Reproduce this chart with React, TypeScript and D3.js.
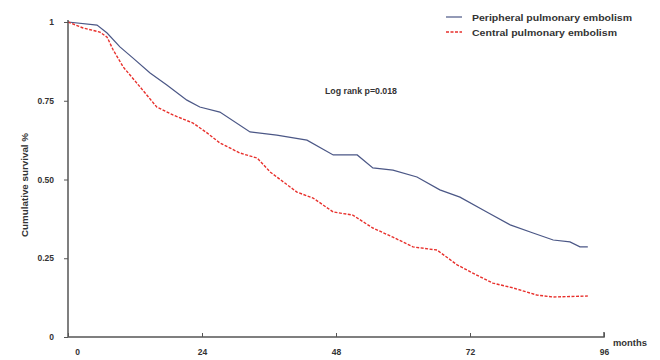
import React, { useEffect, useRef } from 'react';
import * as d3 from 'd3';

// Kaplan-Meier curves (months, cumulative survival)
const peripheralMonths = [0, 5.2, 7.0, 9.3, 11.6, 14.7, 17.7, 21.3, 23.6, 27.2, 32.6, 37.4, 42.8, 47.5, 51.8, 54.6, 58.2, 62.5, 66.6, 70.2, 75.0, 79.2, 83.3, 86.9, 89.9, 91.7, 93.1];
const peripheralSurvival = [1.0, 0.99, 0.965, 0.921, 0.886, 0.838, 0.8, 0.752, 0.73, 0.714, 0.651, 0.641, 0.625, 0.578, 0.578, 0.537, 0.53, 0.508, 0.467, 0.444, 0.397, 0.356, 0.33, 0.308, 0.302, 0.286, 0.286];

const centralMonths = [0, 2.7, 5.7, 7.0, 8.1, 9.9, 12.9, 15.9, 18.8, 22.4, 24.9, 27.2, 30.8, 33.9, 36.2, 41.0, 43.9, 47.5, 51.0, 54.6, 58.2, 61.8, 66.1, 69.7, 72.5, 76.1, 79.7, 84.0, 86.9, 93.1];
const centralSurvival = [1.0, 0.981, 0.968, 0.952, 0.911, 0.857, 0.794, 0.73, 0.705, 0.679, 0.648, 0.616, 0.584, 0.568, 0.524, 0.46, 0.441, 0.397, 0.387, 0.346, 0.317, 0.286, 0.276, 0.229, 0.203, 0.171, 0.156, 0.133, 0.127, 0.13];

const xTicks = [0, 24, 48, 72, 96];
const yTicks = [0, 0.25, 0.5, 0.75, 1];
const yTickLabels = ['0', '0.25', '0.50', '0.75', '1'];

const seriesNames = ['Peripheral pulmonary embolism', 'Central pulmonary embolism'];
const seriesColors = ['#4b5786', '#e8302c'];

const width = 660;
const height = 360;
const font = 'Arial, "Liberation Sans", sans-serif';

const KMChart = () => {
  const ref = useRef<SVGSVGElement>(null);

  useEffect(() => {
    const margin = { top: 22, right: 56, bottom: 23, left: 68 };
    const innerWidth = width - margin.left - margin.right;
    const innerHeight = height - margin.top - margin.bottom;

    const svg = d3.select(ref.current);
    svg.selectAll('*').remove();

    const g = svg.append('g')
      .attr('transform', `translate(${margin.left},${margin.top})`);

    const x = d3.scaleLinear().domain([0, 96]).range([0, innerWidth]);
    const y = d3.scaleLinear().domain([0, 1]).range([innerHeight, 0]);

    const line = d3.line<[number, number]>()
      .x(d => x(d[0]))
      .y(d => y(d[1]));

    const series = [
      peripheralMonths.map((m, i) => [m, peripheralSurvival[i]] as [number, number]),
      centralMonths.map((m, i) => [m, centralSurvival[i]] as [number, number]),
    ];

    // curves
    g.append('path')
      .attr('d', line(series[0]))
      .attr('fill', 'none')
      .attr('stroke', seriesColors[0])
      .attr('stroke-width', 1.2);

    g.append('path')
      .attr('d', line(series[1]))
      .attr('fill', 'none')
      .attr('stroke', seriesColors[1])
      .attr('stroke-width', 1.4)
      .attr('stroke-dasharray', '3,1.5');

    // y axis
    const yAxis = g.append('g')
      .call(d3.axisLeft(y).tickValues(yTicks).tickSize(4).tickFormat((d, i) => yTickLabels[i]));
    yAxis.select('.domain').attr('stroke', '#555').attr('stroke-width', 1.5).attr('d', `M0,-2V${innerHeight}`);
    yAxis.selectAll('.tick line').attr('stroke', '#555');
    yAxis.selectAll('.tick text')
      .attr('x', -14)
      .attr('fill', '#333')
      .style('font', `bold 8.5px ${font}`);

    // x axis, ticks pointing up
    const xAxis = g.append('g')
      .attr('transform', `translate(0,${innerHeight})`)
      .call(d3.axisBottom(x).tickValues(xTicks).tickSize(-4).tickFormat(d3.format('d')));
    xAxis.select('.domain').attr('stroke', '#555').attr('stroke-width', 1.5).attr('d', `M0,0H${innerWidth}V-5`);
    xAxis.selectAll('.tick line').attr('stroke', '#555');
    xAxis.selectAll('.tick text')
      .attr('y', 12)
      .attr('fill', '#333')
      .style('font', `bold 8.5px ${font}`);
    xAxis.select('.tick text').attr('dx', 9);

    // axis titles
    svg.append('text')
      .attr('transform', `translate(28,${margin.top + 163}) rotate(-90)`)
      .attr('text-anchor', 'middle')
      .attr('fill', '#333')
      .style('font', `bold 9px ${font}`)
      .attr('textLength', 104)
      .attr('lengthAdjust', 'spacingAndGlyphs')
      .text('Cumulative survival %');

    svg.append('text')
      .attr('x', margin.left + innerWidth + 9)
      .attr('y', margin.top + innerHeight + 9)
      .attr('fill', '#333')
      .style('font', `bold 9px ${font}`)
      .attr('textLength', 34)
      .attr('lengthAdjust', 'spacingAndGlyphs')
      .text('months');

    svg.append('text')
      .attr('x', 325)
      .attr('y', 94)
      .attr('fill', '#333')
      .style('font', `bold 9px ${font}`)
      .attr('textLength', 72)
      .attr('lengthAdjust', 'spacingAndGlyphs')
      .text('Log rank p=0.018');

    // legend
    const legendWidths = [160, 145];
    const legend = svg.append('g').attr('transform', 'translate(446,17)');
    seriesNames.forEach((name, i) => {
      const row = legend.append('g').attr('transform', `translate(0,${i * 15})`);
      row.append('line')
        .attr('x1', 0)
        .attr('x2', 16)
        .attr('stroke', seriesColors[i])
        .attr('stroke-width', i === 0 ? 1.2 : 1.5)
        .attr('stroke-dasharray', i === 0 ? null : '3,1.5');
      row.append('text')
        .attr('x', 26)
        .attr('y', 3.5)
        .attr('fill', '#333')
        .style('font', `bold 9px ${font}`)
        .attr('textLength', legendWidths[i])
        .attr('lengthAdjust', 'spacingAndGlyphs')
        .text(name);
    });
  }, []);

  return <svg ref={ref} width={width} height={height} style={{ position: 'absolute', left: 0, top: 0, background: '#fff' }}></svg>;
};

export default function App() {
  return <KMChart />;
}
